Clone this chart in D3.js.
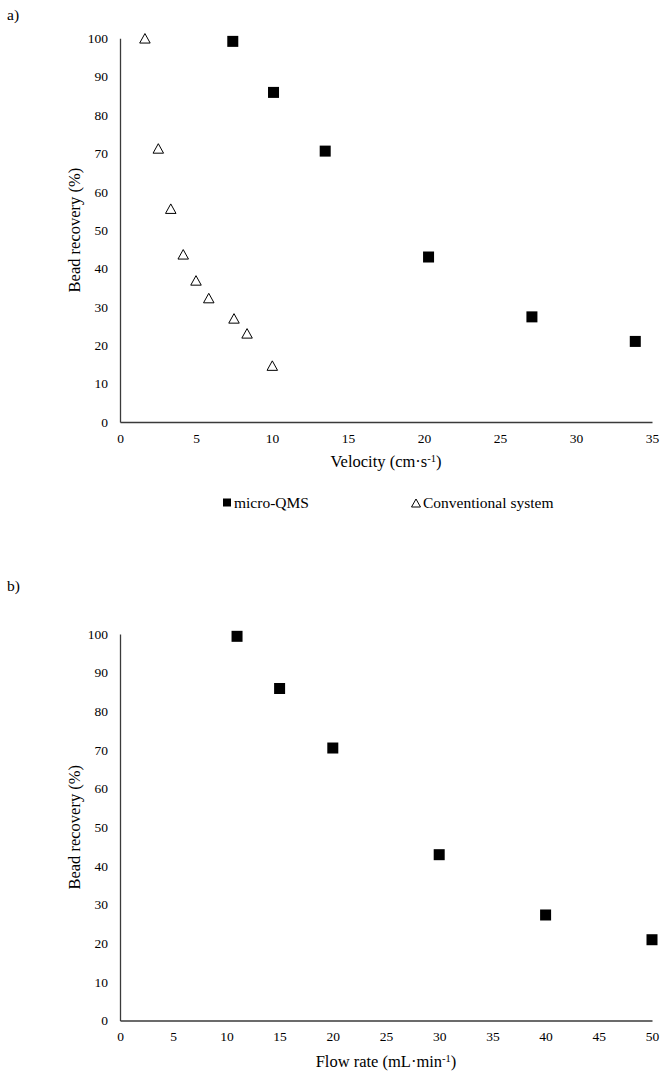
<!DOCTYPE html>
<html>
<head>
<meta charset="utf-8">
<script src="https://cdn.jsdelivr.net/npm/d3@7"></script>
<style>
  html, body { margin: 0; padding: 0; background: #fff; }
  svg { display: block; }
  text { font-family: "Liberation Serif", "Times New Roman", serif; fill: #000; }
</style>
</head>
<body>
<script>
// ---- data ----
const microVelocity = [7.42, 10.1, 13.5, 20.3, 27.1, 33.9];
const microRecovery = [99.2, 85.9, 70.6, 43.0, 27.4, 21.0];
const convVelocity = [1.64, 2.52, 3.34, 4.16, 5.0, 5.84, 7.5, 8.36, 10.02];
const convRecovery = [100, 71.3, 55.6, 43.7, 36.9, 32.3, 27.0, 23.1, 14.7];
const flowRate = [11, 15, 20, 30, 40, 50];
const flowRecovery = [99.4, 85.9, 70.5, 42.9, 27.3, 20.9];
const yTicks = [0, 10, 20, 30, 40, 50, 60, 70, 80, 90, 100];
const xTicksA = [0, 5, 10, 15, 20, 25, 30, 35];
const xTicksB = [0, 5, 10, 15, 20, 25, 30, 35, 40, 45, 50];
const seriesNames = ["micro-QMS", "Conventional system"];

const W = 672, H = 1082;
const svg = d3.select("body").append("svg").attr("width", W).attr("height", H);

const axisColor = "#3a3a3a";
const tickFont = 13.5;
const titleFont = 16.5;
const legendFont = 15.5;

function triPath(cx, cy, w, h) {
  return `M${cx},${cy - h / 2}L${cx + w / 2},${cy + h / 2}L${cx - w / 2},${cy + h / 2}Z`;
}

function drawPanel(opts) {
  const g = svg.append("g");
  const x = d3.scaleLinear().domain(opts.xDomain).range(opts.xRange);
  const y = d3.scaleLinear().domain([0, 100]).range(opts.yRange);

  // y axis
  const ya = g.append("g").attr("transform", `translate(${opts.xRange[0]},0)`)
    .call(d3.axisLeft(y).tickValues(yTicks).tickSize(0).tickPadding(12));
  ya.select(".domain").attr("stroke", axisColor).attr("stroke-width", 1.3);
  ya.selectAll("text").style("font-size", tickFont + "px").style("font-family", "Liberation Serif");

  // x axis
  const xa = g.append("g").attr("transform", `translate(0,${opts.yRange[0]})`)
    .call(d3.axisBottom(x).tickValues(opts.xTicks).tickSize(0).tickPadding(11));
  xa.select(".domain").attr("stroke", axisColor).attr("stroke-width", 1.3);
  xa.selectAll("text").style("font-size", tickFont + "px").style("font-family", "Liberation Serif");

  // panel label
  g.append("text").attr("x", 7).attr("y", opts.labelY).style("font-size", "15.5px").text(opts.label);

  // y title
  const ymid = (opts.yRange[0] + opts.yRange[1]) / 2;
  g.append("text")
    .attr("transform", `translate(80,${ymid}) rotate(-90)`)
    .attr("text-anchor", "middle")
    .style("font-size", titleFont + "px")
    .text("Bead recovery (%)");

  // x title
  const xmid = (opts.xRange[0] + opts.xRange[1]) / 2;
  const xt = g.append("text")
    .attr("x", xmid).attr("y", opts.xTitleY)
    .attr("text-anchor", "middle")
    .style("font-size", titleFont + "px");
  xt.append("tspan").text(opts.xTitle[0]);
  xt.append("tspan").attr("dy", -5.5).style("font-size", "10.5px").text("-1");
  xt.append("tspan").attr("dy", 5.5).text(")");

  // squares
  const sq = 11;
  g.selectAll("rect.sq").data(opts.sqX.map((v, i) => [v, opts.sqY[i]]))
    .enter().append("rect").attr("class", "sq")
    .attr("x", d => x(d[0]) - sq / 2).attr("y", d => y(d[1]) - sq / 2)
    .attr("width", sq).attr("height", sq).attr("fill", "#000");

  if (opts.triX) {
    g.selectAll("path.tri").data(opts.triX.map((v, i) => [v, opts.triY[i]]))
      .enter().append("path").attr("class", "tri")
      .attr("d", d => triPath(x(d[0]), y(d[1]), 10.5, 9.5))
      .attr("fill", "#fff").attr("stroke", "#000").attr("stroke-width", 1);
  }
  return { x, y };
}

drawPanel({
  label: "a)", labelY: 20,
  xDomain: [0, 35], xRange: [120, 652], yRange: [422, 38.3],
  xTicks: xTicksA,
  xTitle: ["Velocity (cm·s"], xTitleY: 467,
  sqX: microVelocity, sqY: microRecovery,
  triX: convVelocity, triY: convRecovery
});

drawPanel({
  label: "b)", labelY: 591,
  xDomain: [0, 50], xRange: [120, 652], yRange: [1020.5, 634],
  xTicks: xTicksB,
  xTitle: ["Flow rate (mL·min"], xTitleY: 1067,
  sqX: flowRate, sqY: flowRecovery
});

// legend for panel a
const leg = svg.append("g");
const legY = 503;
leg.append("rect").attr("x", 223).attr("y", legY - 4.5).attr("width", 8).attr("height", 8).attr("fill", "#000");
leg.append("text").attr("x", 234).attr("y", legY + 5).style("font-size", legendFont + "px").text(seriesNames[0]);
leg.append("path").attr("d", triPath(416, legY, 9, 8)).attr("fill", "#fff").attr("stroke", "#000").attr("stroke-width", 1);
leg.append("text").attr("x", 423).attr("y", legY + 5).style("font-size", legendFont + "px").text(seriesNames[1]);
</script>
</body>
</html>
